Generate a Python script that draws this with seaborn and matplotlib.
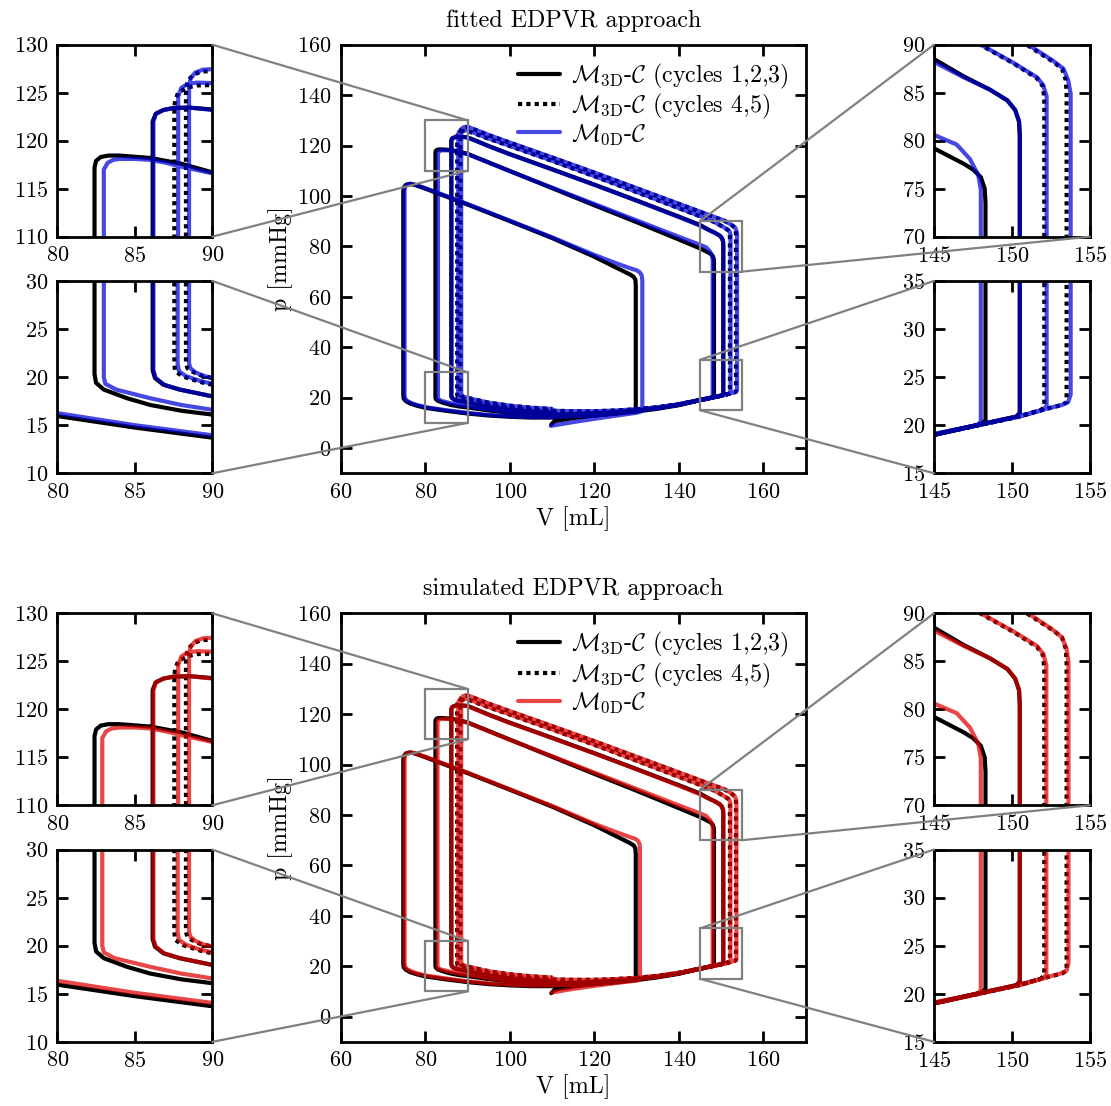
import numpy as np
import pandas as pd
import matplotlib
matplotlib.use('Agg')
import matplotlib.pyplot as plt
from matplotlib.lines import Line2D
from matplotlib.patches import Rectangle, ConnectionPatch
import seaborn as sns

# ---- data: (V [mL], p [mmHg]) ----
# 3D model, cycles 1,2,3 (solid)
pv_3d_c123 = [
    (109.8, 9.3), (110.6, 10.7), (115.0, 11.9), (120.0, 12.9), (125.0, 13.8), (129.2, 14.6), (129.8, 15.4),
    (129.8, 64.5), (129.7, 66.8), (129.3, 67.9), (128.5, 68.8), (125.0, 71.7), (120.0, 75.9), (110.0, 83.3),
    (100.0, 90.0), (90.0, 96.6), (80.0, 102.9), (77.5, 104.4), (76.4, 104.8), (75.5, 104.5), (75.0, 103.6),
    (74.8, 102.0), (74.8, 21.0), (74.9, 19.6), (75.4, 18.6), (76.5, 17.6), (78.0, 16.8), (80.0, 15.95),
    (85.0, 14.75), (90.0, 13.7), (95.0, 12.9), (100.0, 12.4), (105.0, 12.1), (110.0, 12.1), (115.0, 12.4),
    (120.0, 12.9), (125.0, 13.6), (130.0, 14.5), (135.0, 15.6), (140.0, 17.0), (145.0, 19.0), (148.0, 20.1),
    (148.3, 20.5), (148.3, 73.5), (148.25, 75.0), (148.0, 76.2), (147.5, 77.0), (146.9, 77.6), (145.0, 79.2),
    (140.0, 82.7), (130.0, 89.6), (120.0, 96.3), (110.0, 103.1), (100.0, 109.9), (95.0, 113.3), (90.0, 116.7),
    (88.0, 117.6), (86.0, 118.2), (84.0, 118.45), (83.3, 118.45), (82.8, 118.3), (82.5, 117.9), (82.4, 117.2),
    (82.4, 20.3), (82.5, 19.4), (83.0, 18.7), (84.5, 17.8), (86.0, 17.1), (88.0, 16.5), (90.0, 16.1),
    (95.0, 14.9), (100.0, 14.0), (105.0, 13.5), (110.0, 13.3), (115.0, 13.4), (120.0, 13.8), (125.0, 14.3),
    (130.0, 15.0), (135.0, 15.9), (140.0, 17.2), (145.0, 19.0), (148.0, 20.1), (150.3, 20.9), (150.5, 21.3),
    (150.5, 80.5), (150.45, 82.0), (150.2, 83.2), (149.7, 84.2), (148.6, 85.3), (146.9, 86.7), (145.0, 88.5),
    (140.0, 91.8), (130.0, 98.2), (120.0, 104.5), (110.0, 110.6), (100.0, 116.6), (95.0, 119.8), (92.0, 121.9),
    (90.0, 123.25), (88.5, 123.45), (87.5, 123.4), (86.85, 123.2), (86.35, 122.8), (86.15, 122.0),
    (86.15, 20.7), (86.3, 19.9), (86.85, 19.2), (87.9, 18.7), (90.0, 18.0), (95.0, 16.3), (100.0, 15.2),
    (105.0, 14.5), (110.0, 14.1),
]

# 3D model, cycles 4,5 (dotted)
pv_3d_c45 = [
    (110.0, 14.1), (115.0, 14.0), (120.0, 14.2), (125.0, 14.6), (130.0, 15.2), (135.0, 16.0), (140.0, 17.3),
    (145.0, 19.0), (148.0, 20.05), (150.5, 20.9), (151.9, 21.6), (152.07, 22.0),
    (152.07, 84.0), (152.0, 85.6), (151.6, 86.5), (150.1, 88.05), (147.95, 90.0), (145.0, 91.9), (140.0, 95.1),
    (130.0, 101.5), (120.0, 107.8), (110.0, 113.9), (100.0, 119.8), (95.0, 122.7), (90.0, 125.8), (89.0, 125.75),
    (88.3, 125.5), (87.8, 125.0), (87.6, 124.2), (87.55, 123.5),
    (87.55, 21.4), (87.6, 20.6), (88.13, 20.05), (89.2, 19.5), (90.0, 19.2), (95.0, 17.2), (100.0, 16.0),
    (105.0, 15.2), (110.0, 14.8), (115.0, 14.6), (120.0, 14.6), (125.0, 14.9), (130.0, 15.4), (135.0, 16.2),
    (140.0, 17.4), (145.0, 19.0), (148.0, 20.05), (150.5, 20.95), (152.2, 21.7), (153.2, 22.1), (153.5, 22.4),
    (153.5, 84.9), (153.45, 86.3), (153.2, 87.5), (152.65, 88.2), (150.94, 90.0), (145.0, 93.7), (140.0, 96.8),
    (130.0, 103.0), (120.0, 109.2), (110.0, 115.2), (100.0, 121.1), (95.0, 124.1), (92.0, 126.1), (90.0, 127.25),
    (89.3, 127.2), (88.8, 126.9), (88.45, 126.3), (88.3, 125.5),
    (88.3, 21.4), (88.4, 20.9), (88.67, 20.6), (89.2, 20.2), (90.0, 19.9), (95.0, 18.0), (100.0, 16.8),
    (105.0, 16.0), (110.0, 15.5),
]

# 0D model, fitted EDPVR
pv_0d_fitted = [
    (109.7, 8.8), (115.0, 10.3), (120.0, 11.6), (125.0, 12.8), (130.0, 14.0), (131.0, 14.5), (131.35, 15.5),
    (131.35, 66.5), (131.2, 68.5), (130.7, 69.8), (130.0, 70.5), (128.5, 71.3), (125.0, 73.4), (120.0, 76.6),
    (110.0, 83.6), (100.0, 90.2), (90.0, 96.8), (80.0, 103.1), (77.5, 104.5), (76.5, 104.85), (75.7, 104.5),
    (75.2, 103.6), (75.1, 102.0), (75.1, 21.0), (75.2, 19.7), (75.7, 18.7), (76.8, 17.8), (78.0, 17.1),
    (80.0, 16.25), (85.0, 15.0), (90.0, 13.95), (95.0, 13.1), (100.0, 12.6), (105.0, 12.3), (110.0, 12.3),
    (115.0, 12.6), (120.0, 13.1), (125.0, 13.8), (130.0, 14.7), (135.0, 15.8), (140.0, 17.2), (145.0, 19.1),
    (147.8, 20.0), (148.0, 20.4), (148.0, 74.9), (147.84, 76.4), (147.3, 78.1), (146.45, 79.6), (145.0, 80.6),
    (140.0, 83.8), (130.0, 90.3), (120.0, 96.8), (110.0, 103.3), (100.0, 109.8), (95.0, 113.2), (90.0, 116.6),
    (88.0, 117.3), (87.0, 117.7), (86.0, 118.0), (85.0, 118.1), (84.0, 118.1), (83.6, 118.0), (83.25, 117.7),
    (83.0, 117.0), (83.0, 20.0), (83.1, 19.3), (83.8, 18.7), (86.0, 17.8), (88.0, 17.1), (90.0, 16.6),
    (95.0, 15.3), (100.0, 14.3), (105.0, 13.7), (110.0, 13.5), (115.0, 13.6), (120.0, 13.9), (125.0, 14.4),
    (130.0, 15.1), (135.0, 16.0), (140.0, 17.3), (145.0, 19.05), (148.0, 20.1), (150.3, 20.9), (150.5, 21.3),
    (150.5, 80.5), (150.45, 82.0), (150.2, 83.2), (149.7, 84.2), (148.6, 85.3), (146.9, 86.6), (145.0, 88.2),
    (140.0, 91.6), (130.0, 98.1), (120.0, 104.4), (110.0, 110.5), (100.0, 116.5), (95.0, 119.7), (92.0, 121.8),
    (90.0, 123.2), (88.5, 123.45), (87.5, 123.4), (86.85, 123.2), (86.35, 122.8), (86.2, 122.0),
    (86.2, 20.7), (86.35, 19.9), (86.9, 19.2), (87.9, 18.7), (90.0, 18.0), (95.0, 16.3), (100.0, 15.2),
    (105.0, 14.5), (110.0, 14.1), (115.0, 14.0), (120.0, 14.2), (125.0, 14.6), (130.0, 15.2), (135.0, 16.0),
    (140.0, 17.3), (145.0, 19.0), (148.0, 20.05), (150.5, 20.9), (152.0, 21.6), (152.22, 22.0),
    (152.22, 84.6), (152.0, 85.8), (151.6, 86.6), (150.1, 88.1), (147.95, 90.05), (145.0, 92.0), (140.0, 95.2),
    (130.0, 101.6), (120.0, 107.9), (110.0, 114.0), (100.0, 119.9), (95.0, 122.8), (90.0, 126.0), (89.0, 126.05),
    (88.4, 125.9), (88.0, 125.5), (87.8, 124.6),
    (87.76, 21.4), (87.85, 20.6), (88.3, 20.1), (89.2, 19.6), (90.0, 19.3), (95.0, 17.3), (100.0, 16.1),
    (105.0, 15.3), (110.0, 14.8), (115.0, 14.6), (120.0, 14.6), (125.0, 14.9), (130.0, 15.4), (135.0, 16.2),
    (140.0, 17.4), (145.0, 19.0), (148.0, 20.05), (150.5, 20.95), (152.2, 21.7), (153.2, 22.1), (153.6, 22.4),
    (153.76, 23.2), (153.76, 84.9), (153.6, 86.3), (153.3, 87.5), (152.65, 88.3), (150.94, 90.1), (145.0, 93.8),
    (140.0, 96.9), (130.0, 103.1), (120.0, 109.3), (110.0, 115.3), (100.0, 121.2), (95.0, 124.2), (92.0, 126.2),
    (90.0, 127.45), (89.4, 127.4), (88.9, 127.1), (88.6, 126.5), (88.5, 125.6),
    (88.5, 21.4), (88.6, 20.9), (88.9, 20.5), (89.4, 20.15), (90.0, 19.9), (95.0, 18.0), (100.0, 16.8),
    (105.0, 16.0), (110.0, 15.5),
]

# 0D model, simulated EDPVR
pv_0d_simulated = [
    (110.0, 9.6), (115.0, 11.0), (120.0, 12.2), (125.0, 13.3), (130.0, 14.3), (130.6, 14.6), (130.8, 15.5),
    (130.8, 66.5), (130.7, 68.5), (130.3, 69.8), (129.7, 70.5), (128.3, 71.3), (125.0, 73.3), (120.0, 76.5),
    (110.0, 83.6), (100.0, 90.2), (90.0, 96.8), (80.0, 103.1), (77.5, 104.5), (76.5, 104.85), (75.7, 104.5),
    (75.2, 103.6), (75.1, 102.0), (75.1, 21.0), (75.2, 19.8), (75.7, 18.8), (76.8, 17.9), (78.0, 17.2),
    (80.0, 16.35), (85.0, 15.1), (90.0, 14.05), (95.0, 13.2), (100.0, 12.7), (105.0, 12.4), (110.0, 12.4),
    (115.0, 12.7), (120.0, 13.2), (125.0, 13.9), (130.0, 14.8), (135.0, 15.8), (140.0, 17.2), (145.0, 19.1),
    (147.8, 20.0), (148.0, 20.4), (148.0, 74.9), (147.84, 76.4), (147.3, 78.1), (146.45, 79.6), (145.0, 80.6),
    (140.0, 83.8), (130.0, 90.3), (120.0, 96.8), (110.0, 103.3), (100.0, 109.8), (95.0, 113.2), (90.0, 116.6),
    (88.0, 117.3), (87.0, 117.7), (86.0, 118.0), (85.0, 118.1), (84.0, 118.1), (83.5, 118.0), (83.15, 117.7),
    (82.9, 117.0), (82.9, 20.0), (83.0, 19.3), (83.7, 18.7), (86.0, 17.8), (88.0, 17.1), (90.0, 16.6),
    (95.0, 15.3), (100.0, 14.3), (105.0, 13.7), (110.0, 13.5), (115.0, 13.6), (120.0, 13.9), (125.0, 14.4),
    (130.0, 15.1), (135.0, 16.0), (140.0, 17.3), (145.0, 19.05), (148.0, 20.1), (150.3, 20.9), (150.5, 21.3),
    (150.5, 80.5), (150.45, 82.0), (150.2, 83.2), (149.7, 84.2), (148.6, 85.3), (146.9, 86.6), (145.0, 88.2),
    (140.0, 91.6), (130.0, 98.1), (120.0, 104.4), (110.0, 110.5), (100.0, 116.5), (95.0, 119.7), (92.0, 121.8),
    (90.0, 123.2), (88.5, 123.45), (87.5, 123.4), (86.85, 123.2), (86.35, 122.8), (86.2, 122.0),
    (86.2, 20.7), (86.35, 19.9), (86.9, 19.2), (87.9, 18.7), (90.0, 18.0), (95.0, 16.3), (100.0, 15.2),
    (105.0, 14.5), (110.0, 14.1), (115.0, 14.0), (120.0, 14.2), (125.0, 14.6), (130.0, 15.2), (135.0, 16.0),
    (140.0, 17.3), (145.0, 19.0), (148.0, 20.05), (150.5, 20.9), (152.0, 21.6), (152.2, 22.0),
    (152.2, 84.6), (152.0, 85.8), (151.6, 86.6), (150.1, 88.1), (147.95, 90.05), (145.0, 92.0), (140.0, 95.2),
    (130.0, 101.6), (120.0, 107.9), (110.0, 114.0), (100.0, 119.9), (95.0, 122.8), (90.0, 126.0), (89.0, 126.05),
    (88.4, 125.9), (88.0, 125.5), (87.8, 124.6),
    (87.76, 21.4), (87.85, 20.6), (88.3, 20.1), (89.2, 19.6), (90.0, 19.3), (95.0, 17.3), (100.0, 16.1),
    (105.0, 15.3), (110.0, 14.8), (115.0, 14.6), (120.0, 14.6), (125.0, 14.9), (130.0, 15.4), (135.0, 16.2),
    (140.0, 17.4), (145.0, 19.0), (148.0, 20.05), (150.5, 20.95), (152.2, 21.7), (153.1, 22.1), (153.5, 22.4),
    (153.62, 23.2), (153.62, 84.9), (153.5, 86.3), (153.2, 87.5), (152.6, 88.3), (150.94, 90.1), (145.0, 93.8),
    (140.0, 96.9), (130.0, 103.1), (120.0, 109.3), (110.0, 115.3), (100.0, 121.2), (95.0, 124.2), (92.0, 126.2),
    (90.0, 127.45), (89.4, 127.4), (88.9, 127.1), (88.6, 126.5), (88.5, 125.6),
    (88.5, 21.4), (88.6, 20.9), (88.9, 20.5), (89.4, 20.15), (90.0, 19.9), (95.0, 18.0), (100.0, 16.8),
    (105.0, 16.0), (110.0, 15.5),
]

panels = [
    ('fitted EDPVR approach', pv_0d_fitted, '#0000d8'),
    ('simulated EDPVR approach', pv_0d_simulated, '#e00000'),
]

# inset windows: (xlim, ylim, xticks, yticks)
insets = {
    'tl': ((80, 90), (110, 130), [80, 85, 90], [110, 115, 120, 125, 130]),
    'bl': ((80, 90), (10, 30), [80, 85, 90], [10, 15, 20, 25, 30]),
    'tr': ((145, 155), (70, 90), [145, 150, 155], [70, 75, 80, 85, 90]),
    'br': ((145, 155), (15, 35), [145, 150, 155], [15, 20, 25, 30, 35]),
}

sns.set_theme(style='ticks')
plt.rcParams['font.family'] = ['cmr10', 'DejaVu Serif']
plt.rcParams['mathtext.fontset'] = 'cm'
plt.rcParams['axes.formatter.use_mathtext'] = True
plt.rcParams['axes.unicode_minus'] = False
plt.rcParams['font.size'] = 16
for k in ['axes.edgecolor', 'axes.labelcolor', 'text.color', 'xtick.color', 'ytick.color']:
    plt.rcParams[k] = 'black'

FS = 16        # tick labels
FS_BIG = 17.3  # title, legend, axis labels
DOT = (0, (1, 1))
LW = 3.0
ALPHA = 0.72


def style_axes(ax, xlim, ylim, xt, yt):
    ax.set_xlim(xlim)
    ax.set_ylim(ylim)
    ax.set_xticks(xt)
    ax.set_yticks(yt)
    ax.tick_params(direction='in', top=True, right=True, length=8, width=2.0,
                   labelsize=FS, pad=6.5)
    for s in ax.spines.values():
        s.set_linewidth(2.0)
    ax.set_xlabel('')
    ax.set_ylabel('')


def draw_loops(ax, pv0d, color):
    for pv, ls in ((pv_3d_c123, '-'), (pv_3d_c45, DOT)):
        d = pd.DataFrame(pv, columns=['V', 'p'])
        sns.lineplot(data=d, x='V', y='p', sort=False, estimator=None, ax=ax,
                     color='black', lw=LW, linestyle=ls)
    d = pd.DataFrame(pv0d, columns=['V', 'p'])
    sns.lineplot(data=d, x='V', y='p', sort=False, estimator=None, ax=ax,
                 color=color, alpha=ALPHA, lw=LW)


fig = plt.figure(figsize=(11.11, 11.06), dpi=100)

for i, (title, pv0d, color) in enumerate(panels):
    dy = -0.5141 * i
    ax = fig.add_axes([0.3067, 0.5721 + dy, 0.4185, 0.3875])
    draw_loops(ax, pv0d, color)
    style_axes(ax, (60, 170), (-10, 160), range(60, 161, 20), range(0, 161, 20))
    ax.set_xlabel('V [mL]', fontsize=FS_BIG, labelpad=3)
    ax.set_ylabel('p [mmHg]', fontsize=FS_BIG, labelpad=3)
    ax.set_title(title, fontsize=FS_BIG, pad=13)

    handles = [
        Line2D([], [], color='black', lw=LW),
        Line2D([], [], color='black', lw=LW, linestyle=DOT),
        Line2D([], [], color=color, alpha=ALPHA, lw=LW),
    ]
    labels = [r'$\mathcal{M}_{\rm 3D}$-$\mathcal{C}$ (cycles 1,2,3)',
              r'$\mathcal{M}_{\rm 3D}$-$\mathcal{C}$ (cycles 4,5)',
              r'$\mathcal{M}_{\rm 0D}$-$\mathcal{C}$']
    ax.legend(handles, labels, loc='upper right', frameon=False, fontsize=FS_BIG,
              handlelength=1.75, handletextpad=0.45, labelspacing=0.05,
              borderaxespad=0.3)

    rects = {
        'tl': [0.0516, 0.7860 + dy, 0.1395, 0.1736],
        'bl': [0.0516, 0.5721 + dy, 0.1395, 0.1739],
        'tr': [0.8407, 0.7860 + dy, 0.1404, 0.1736],
        'br': [0.8407, 0.5721 + dy, 0.1404, 0.1739],
    }
    # which inset corners connect to which box corners
    links = {
        'tl': [((1, 1), (1, 1)), ((1, 0), (1, 0))],
        'bl': [((1, 1), (1, 1)), ((1, 0), (1, 0))],
        'tr': [((0, 1), (0, 1)), ((1, 0), (1, 0))],
        'br': [((0, 1), (0, 1)), ((0, 0), (0, 0))],
    }
    for key, (xl, yl, xt, yt) in insets.items():
        axi = fig.add_axes(rects[key])
        draw_loops(axi, pv0d, color)
        style_axes(axi, xl, yl, xt, yt)
        ax.add_patch(Rectangle((xl[0], yl[0]), xl[1] - xl[0], yl[1] - yl[0],
                               fill=False, ec='gray', lw=1.6, zorder=5))
        for (fa, fb) in links[key]:
            xb = xl[0] + fb[0] * (xl[1] - xl[0])
            yb = yl[0] + fb[1] * (yl[1] - yl[0])
            con = ConnectionPatch(xyA=fa, coordsA='axes fraction', axesA=axi,
                                  xyB=(xb, yb), coordsB='data', axesB=ax,
                                  color='gray', lw=1.6)
            fig.add_artist(con)

fig.savefig('out.png', dpi=100)
